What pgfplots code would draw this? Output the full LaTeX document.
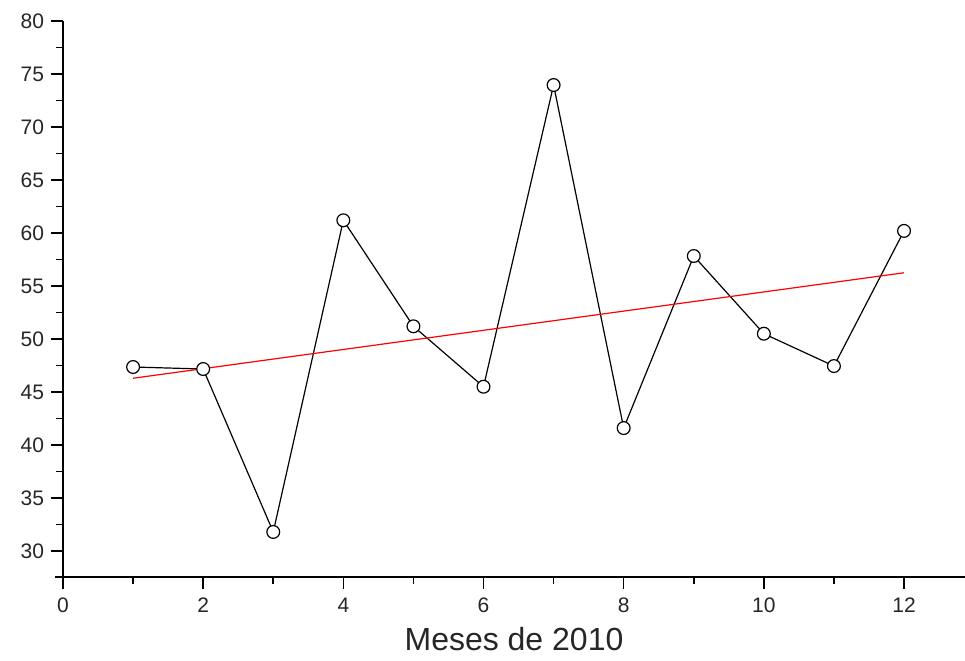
\documentclass[border=0pt]{standalone}
\usepackage{pgfplots}
\pgfplotsset{compat=1.18}
\usepackage{fontspec}
\setmainfont{Liberation Sans}
\usetikzlibrary{calc}
\begin{document}
\begin{tikzpicture}
\begin{axis}[
  scale only axis,
  width=451pt, height=278pt,
  xmin=0, xmax=12.87, ymin=27.55, ymax=80,
  axis x line=bottom, axis y line=left,
  axis line style={-, line width=0.8pt},
  xtick={0,2,...,12}, ytick={30,35,...,80},
  minor x tick num=1, minor y tick num=1,
  tick align=outside,
  major tick length=6pt, minor tick length=3.5pt,
  tick style={line width=0.8pt, black},
  /pgf/number format/assume math mode=true,
  tick label style={font=\fontsize{10.5}{12}\selectfont, text=black!85},
  xticklabel style={yshift=-1pt},
  xlabel={Meses de 2010},
  xlabel style={font=\fontsize{16}{18}\selectfont, text=black!85, at={(axis description cs:0.5,0)}, anchor=center, yshift=-31pt},
  clip=false,
]
\addplot[black, line width=0.6pt, mark=*, mark size=3.2pt, mark options={fill=white, draw=black, line width=0.6pt}]
coordinates {
(1,47.36) (2,47.17) (3,31.8) (4,61.2) (5,51.2) (6,45.5)
(7,73.96) (8,41.6) (9,57.83) (10,50.5) (11,47.45) (12,60.2)
};
\addplot[red, line width=0.6pt] coordinates {(1,46.3) (12,56.25)};
\end{axis}
\draw[line width=0.8pt] ($(current axis.south west)+(-4pt,0)$) -- (current axis.south west);
\pgfresetboundingbox
\path ($(current axis.south west)+(-31.5pt,-41.5pt)$) rectangle ($(current axis.north east)+(0,10.5pt)$);
\end{tikzpicture}
\end{document}
